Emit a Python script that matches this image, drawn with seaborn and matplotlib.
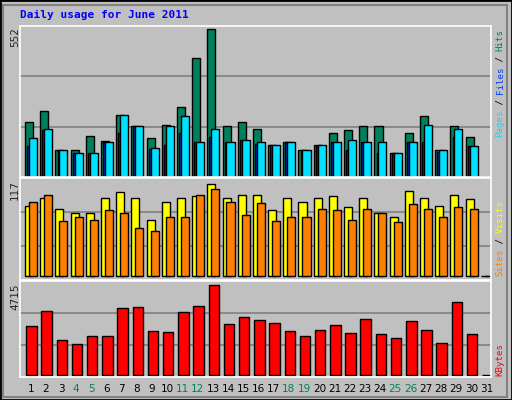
import numpy as np
import matplotlib
matplotlib.use("Agg")
import matplotlib.pyplot as plt
import seaborn as sns
from matplotlib.patches import Rectangle

days = list(range(1, 32))
weekend = [4, 5, 11, 12, 18, 19, 25, 26]

hits = [204, 245, 99, 102, 155, 136, 230, 192, 144, 196, 260, 444, 552, 192, 204,
        181, 118, 132, 102, 121, 166, 174, 189, 192, 91, 166, 226, 102, 192, 151, 0]
files = [144, 178, 99, 91, 88, 132, 230, 192, 110, 189, 226, 132, 181, 132, 140,
         129, 118, 129, 102, 118, 129, 140, 129, 129, 91, 132, 196, 99, 181, 114, 0]
pages = [115, 174, 99, 91, 88, 132, 166, 192, 106, 121, 166, 132, 151, 129, 140,
         125, 118, 129, 99, 114, 129, 102, 129, 91, 91, 129, 129, 95, 148, 114, 0]
visits = [89, 100, 85, 80, 80, 99, 107, 99, 71, 94, 99, 102, 117, 99, 104,
          103, 84, 99, 94, 99, 102, 88, 99, 80, 75, 109, 99, 89, 104, 98, 0]
sites = [94, 103, 70, 75, 72, 84, 81, 61, 57, 75, 75, 104, 111, 94, 78,
         93, 70, 76, 75, 85, 84, 71, 85, 80, 69, 92, 85, 76, 88, 85, 0]
kbytes = [2591, 3368, 1813, 1606, 2021, 2021, 3523, 3575, 2280, 2228, 3316, 3627, 4715, 2694, 3057,
          2902, 2746, 2280, 2021, 2332, 2642, 2176, 2953, 2124, 1917, 2850, 2332, 1658, 3834, 2124, 0]

sns.set_style("white")
plt.rcParams['font.family'] = ['DejaVu Sans']

BG = "#C0C0C0"
fig = plt.figure(figsize=(5.12, 4.0), dpi=100, facecolor=BG)
W, H = 512, 400

def axes_px(top, bottom):
    return fig.add_axes([20 / W, 1 - bottom / H, 471 / W, (bottom - top) / H])

ax1 = axes_px(26, 177)
ax2 = axes_px(178, 280)
ax3 = axes_px(281, 377)

x = np.arange(31)
ec = dict(edgecolor="black", linewidth=1, align="edge")
ax1.bar(x + 0.33, hits, width=0.53, color="#00805C", **ec)
ax1.bar(x + 0.47, pages, width=0.13, color="#0040FF", **ec)
ax1.bar(x + 0.59, files, width=0.53, color="#00E0FF", **ec)
ax1.set_ylim(0, 564)

ax2.bar(x + 0.33, visits, width=0.53, color="#FFFF00", **ec)
ax2.bar(x + 0.59, sites, width=0.53, color="#FF8000", **ec)
ax2.set_ylim(-4.7, 125)

ax3.bar(x + 0.41, kbytes, width=0.69, color="#FF0000", **ec)
ax3.set_ylim(-104, 4922)

for ax in (ax1, ax2, ax3):
    ax.set_facecolor(BG)
    ax.set_xlim(0, 31)
    for f in (1 / 3, 2 / 3):
        ax.axhline(ax.get_ylim()[0] + f * (ax.get_ylim()[1] - ax.get_ylim()[0]),
                   color="#808080", lw=1.2, zorder=0)
    for s in ax.spines.values():
        s.set_color("white")
        s.set_linewidth(1.2)
    ax.set_yticks([])
    ax.set_xticks([])

ax3.set_xticks(x + 0.7)
ax3.set_xticklabels([str(d) for d in days], fontsize=7.5)
ax3.tick_params(axis="x", length=0, pad=5)
for lab, d in zip(ax3.get_xticklabels(), days):
    lab.set_color("#00805C" if d in weekend else "black")

fig.text(20 / W, 1 - 15 / H, "Daily usage for June 2011", color="#0000FF",
         family="DejaVu Sans Mono", weight="bold", fontsize=8, va="center")

for txt, top in (("552", 27), ("117", 180), ("4715", 283)):
    fig.text(15 / W, 1 - top / H, txt, rotation=90, fontsize=7.5, ha="center", va="top")

def side_label(parts, bottom):
    y = bottom
    for t, c in parts:
        fig.text(500 / W, 1 - y / H, t, rotation=90, color=c, family="DejaVu Sans Mono",
                 fontsize=6.6, ha="center", va="bottom")
        y -= 5.35 * len(t)

side_label([("Pages", "#00E0FF"), (" / ", "black"), ("Files", "#0040FF"),
            (" / ", "black"), ("Hits", "#00805C")], 137)
side_label([("Sites", "#FF8000"), (" / ", "black"), ("Visits", "#FFFF00")], 276)
side_label([("KBytes", "#FF0000")], 376)

# bevelled frame
fig.patches.append(Rectangle((0, 0), 1, 1, transform=fig.transFigure, fill=False,
                             edgecolor="black", lw=2))
fig.patches.append(Rectangle((3 / W, 3 / H), 1 - 8 / W, 1 - 8 / H, transform=fig.transFigure,
                             fill=False, edgecolor="#808080", lw=1.5))

fig.savefig("out.png", dpi=100, facecolor=BG)
